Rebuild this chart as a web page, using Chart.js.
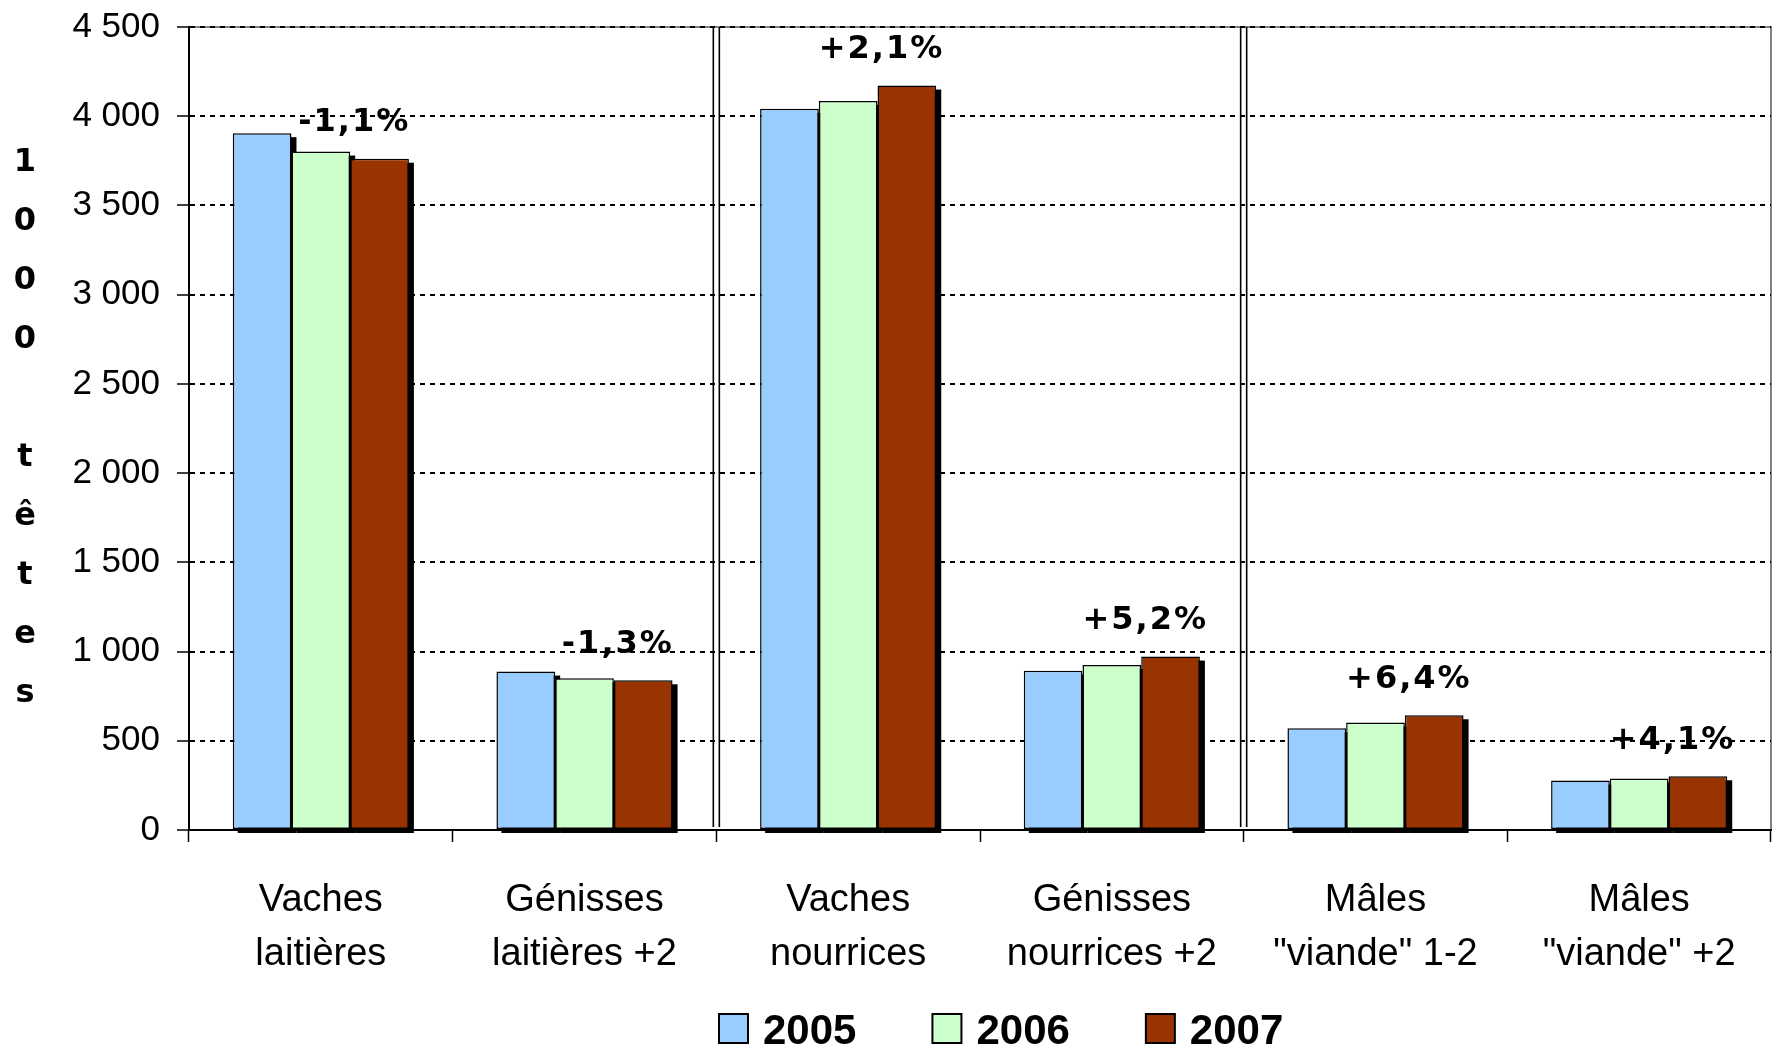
<!DOCTYPE html>
<html>
<head>
<meta charset="utf-8">
<script src="https://cdn.jsdelivr.net/npm/chart.js@4.4.1/dist/chart.umd.min.js"></script>
<style>
  html, body { margin: 0; padding: 0; background: #ffffff; }
  #wrap { width: 1782px; height: 1051px; position: relative; }
</style>
</head>
<body>
<div id="wrap"><canvas id="c"></canvas></div>
<script>
// ---- data ----
const categories = [
  ['Vaches', 'laitières'],
  ['Génisses', 'laitières +2'],
  ['Vaches', 'nourrices'],
  ['Génisses', 'nourrices +2'],
  ['Mâles', '"viande" 1-2'],
  ['Mâles', '"viande" +2']
];
const seriesNames = ['2005', '2006', '2007'];
const values2005 = [3905, 888, 4042, 893, 570, 277];
const values2006 = [3802, 850, 4086, 925, 602, 289];
const values2007 = [3762, 839, 4172, 972, 643, 301];
const changeLabels = ['-1,1%', '-1,3%', '+2,1%', '+5,2%', '+6,4%', '+4,1%'];
const yTickLabels = ['0', '500', '1 000', '1 500', '2 000', '2 500', '3 000', '3 500', '4 000', '4 500'];
const yTitle = '1000 têtes';
const groupBreaks = [2, 4];   // separators before these category indices
const seriesColors = ['#99CCFF', '#CCFFCC', '#993300'];

// ---- custom drawing plugin ----
const decor = {
  id: 'decor',
  beforeDraw(chart) {
    const {ctx, chartArea: a} = chart;
    ctx.save();
    ctx.strokeStyle = '#808080';
    ctx.lineWidth = 2;
    ctx.beginPath();
    ctx.moveTo(a.left, a.top);
    ctx.lineTo(a.right, a.top);
    ctx.lineTo(a.right, a.bottom);
    ctx.stroke();
    ctx.restore();
  },
  beforeDatasetsDraw(chart) {
    // bar shadows
    const ctx = chart.ctx;
    ctx.save();
    ctx.fillStyle = '#000000';
    chart.data.datasets.forEach((ds, di) => {
      chart.getDatasetMeta(di).data.forEach(bar => {
        const p = bar.getProps(['x', 'y', 'base', 'width'], true);
        ctx.fillRect(p.x - p.width / 2 + 5, p.y + 4, p.width, p.base - p.y);
      });
    });
    ctx.restore();
  },
  afterDatasetsDraw(chart) {
    const {ctx, chartArea: a} = chart;
    const xs = chart.scales.x;
    // double separators
    ctx.save();
    ctx.strokeStyle = '#000000';
    ctx.lineWidth = 1.6;
    groupBreaks.forEach(b => {
      const x = (xs.getPixelForValue(b - 1) + xs.getPixelForValue(b)) / 2;
      [-3, 3].forEach(dx => {
        ctx.beginPath();
        ctx.moveTo(x + dx, a.top);
        ctx.lineTo(x + dx, a.bottom - 3);
        ctx.stroke();
      });
    });
    ctx.restore();
    // change labels
    ctx.save();
    ctx.fillStyle = '#000000';
    ctx.font = 'bold 32px "DejaVu Sans"';
    ctx.textAlign = 'center';
    ctx.textBaseline = 'middle';
    try { ctx.letterSpacing = '2px'; } catch (e) {}
    const m1 = chart.getDatasetMeta(1).data;
    const m2 = chart.getDatasetMeta(2).data;
    changeLabels.forEach((t, i) => {
      const x = (m1[i].x + m2[i].x) / 2 + 4;
      const y = m2[i].y - 36;
      ctx.fillText(t, x, y);
    });
    ctx.restore();
  },
  afterDraw(chart) {
    const {ctx, chartArea: a} = chart;
    // vertical stacked y title
    ctx.save();
    ctx.fillStyle = '#000000';
    ctx.font = 'bold 32px "DejaVu Sans"';
    ctx.textAlign = 'center';
    ctx.textBaseline = 'middle';
    const chars = Array.from(yTitle);
    const cy = (a.top + a.bottom) / 2;
    const step = 59;
    chars.forEach((ch, i) => {
      ctx.fillText(ch, 25, cy + (i - (chars.length - 1) / 2) * step);
    });
    ctx.restore();
    // legend
    ctx.save();
    ctx.font = 'bold 42px "Liberation Sans"';
    ctx.textAlign = 'left';
    ctx.textBaseline = 'alphabetic';
    let x = 719;
    const boxTop = a.bottom + 184;
    const box = 29;
    seriesNames.forEach((name, i) => {
      ctx.fillStyle = seriesColors[i];
      ctx.fillRect(x, boxTop, box, box);
      ctx.strokeStyle = '#000000';
      ctx.lineWidth = 2;
      ctx.strokeRect(x, boxTop, box, box);
      ctx.fillStyle = '#000000';
      ctx.fillText(name, x + box + 15, boxTop + 30);
      x += box + 15 + ctx.measureText(name).width + 76;
    });
    ctx.restore();
  }
};

const mkDs = (label, data, color) => ({
  label, data,
  backgroundColor: color,
  borderColor: '#000000',
  borderWidth: 1.5,
  borderSkipped: false,
  categoryPercentage: 0.668,
  barPercentage: 1.0
});

new Chart(document.getElementById('c'), {
  type: 'bar',
  data: {
    labels: categories,
    datasets: [
      mkDs(seriesNames[0], values2005, seriesColors[0]),
      mkDs(seriesNames[1], values2006, seriesColors[1]),
      mkDs(seriesNames[2], values2007, seriesColors[2])
    ]
  },
  options: {
    responsive: true,
    maintainAspectRatio: false,
    animation: false,
    layout: { padding: { left: 0, right: 11, top: 27, bottom: 0 } },
    plugins: {
      legend: { display: false },
      tooltip: { enabled: false }
    },
    scales: {
      x: {
        afterFit(s) { s.height = 221; },
        grid: {
          offset: true,
          drawOnChartArea: false,
          drawTicks: true,
          tickLength: 12,
          tickColor: '#000000',
          tickWidth: 1.5,
          color: '#000000'
        },
        border: { display: true, color: '#000000', width: 2 },
        ticks: {
          color: '#000000',
          padding: 32,
          maxRotation: 0,
          autoSkip: false,
          font: { family: 'Liberation Sans', size: 38, lineHeight: 54 / 38 }
        }
      },
      y: {
        min: 0,
        max: 4500,
        afterFit(s) { s.width = 189; s.paddingTop = 0; s.paddingBottom = 0; },
        grid: {
          color: '#000000',
          lineWidth: 2,
          drawTicks: true,
          tickLength: 12,
          tickColor: '#000000',
          tickWidth: 1.5,
          tickBorderDash: []
        },
        border: { display: true, color: '#000000', width: 2, dash: [5, 5] },
        ticks: {
          stepSize: 500,
          color: '#000000',
          padding: 17,
          font: { family: 'Liberation Sans', size: 35 },
          callback: (v, i) => yTickLabels[i]
        }
      }
    }
  },
  plugins: [decor]
});
</script>
</body>
</html>
